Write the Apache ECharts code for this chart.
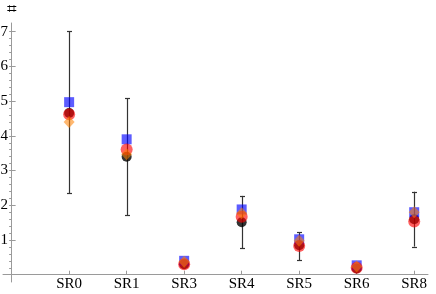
<!DOCTYPE html>
<html><head><meta charset="utf-8">
<script src="https://cdn.jsdelivr.net/npm/echarts@6/dist/echarts.min.js"></script>
<style>html,body{margin:0;padding:0;background:#fff}#c{width:436px;height:294px}</style>
</head><body><div id="c"></div>
<script>
const categories = ['SR0','SR1','SR3','SR4','SR5','SR6','SR8'];
const blueSquare = [4.97, 3.90, 0.40, 1.88, 1.02, 0.27, 1.80];
const blackCircle = [4.66, 3.40, 0.30, 1.51, 0.85, 0.18, 1.60];
const redCircle = [4.62, 3.61, 0.30, 1.67, 0.83, 0.20, 1.53];
const orangeDiamond = [4.40, 3.47, 0.37, 1.77, 0.98, 0.24, 1.80];
const errLow = [2.35, 1.71, null, 0.76, 0.42, null, 0.81];
const errHigh = [7.02, 5.08, null, 2.27, 1.22, null, 2.39];
const yTickLabels = [1, 2, 3, 4, 5, 6, 7];
const yAxisName = '\u2317';
const yMinorTicks = [];
for (let v = 0; v <= 7.01; v += 0.2) yMinorTicks.push(Math.round(v * 10) / 10);
const xPos = categories.map((c, i) => i + 1);

const pts = arr => arr.map((v, i) => [xPos[i], v]);
const errData = categories.map((c, i) => [xPos[i], errLow[i], errHigh[i]]).filter(d => d[1] != null);

const font = 'Liberation Serif, serif';
const axisGrey = '#9a9a9a';

const chart = echarts.init(document.getElementById('c'), null, {renderer: 'canvas'});
chart.setOption({
  animation: false,
  textStyle: {fontFamily: font},
  grid: {left: 3, right: 8, top: 23, bottom: 12, containLabel: false, outerBoundsMode: 'none'},
  graphic: [{
    type: 'text', left: 7, top: 1,
    style: {text: yAxisName, fill: '#000', font: '17px "DejaVu Sans", sans-serif'}
  }],
  xAxis: {
    type: 'value', min: -0.15, max: 7.24,
    splitLine: {show: false},
    axisLine: {onZero: true, lineStyle: {color: axisGrey, width: 1}},
    axisTick: {show: true, inside: true, length: 4, customValues: xPos, lineStyle: {color: axisGrey}},
    axisLabel: {customValues: xPos, margin: -5, color: '#000', fontFamily: font, fontSize: 15,
      formatter: v => categories[Math.round(v) - 1] || ''}
  },
  yAxis: [{
    type: 'value', min: -0.21, max: 7.25,
    splitLine: {show: false},
    axisLine: {onZero: true, onZeroAxisIndex: 0, lineStyle: {color: axisGrey, width: 1}},
    axisTick: {show: true, inside: true, length: 4, customValues: yTickLabels, lineStyle: {color: axisGrey}},
    axisLabel: {customValues: yTickLabels, margin: -5, color: '#000', fontFamily: font, fontSize: 15}
  }, {
    type: 'value', min: -0.21, max: 7.25,
    splitLine: {show: false},
    axisLine: {show: false, onZero: true, onZeroAxisIndex: 0},
    axisTick: {show: true, inside: true, length: 2.5, customValues: yMinorTicks, lineStyle: {color: axisGrey}},
    axisLabel: {show: false}
  }],
  series: [
    {
      type: 'custom', z: 1,
      data: errData,
      renderItem: (params, api) => {
        const x = api.value(0);
        const lo = api.coord([x, api.value(1)]);
        const hi = api.coord([x, api.value(2)]);
        const cx = Math.round(lo[0]) + 0.5;
        const cap = 2.5;
        const st = {stroke: '#333', lineWidth: 1.2};
        return {type: 'group', children: [
          {type: 'line', shape: {x1: cx, y1: lo[1], x2: cx, y2: hi[1]}, style: st},
          {type: 'line', shape: {x1: cx - cap, y1: Math.round(lo[1]) + 0.5, x2: cx + cap, y2: Math.round(lo[1]) + 0.5}, style: st},
          {type: 'line', shape: {x1: cx - cap, y1: Math.round(hi[1]) + 0.5, x2: cx + cap, y2: Math.round(hi[1]) + 0.5}, style: st}
        ]};
      }
    },
    {type: 'scatter', z: 2, data: pts(blackCircle), symbol: 'circle', symbolSize: 10,
      itemStyle: {color: '#000'}},
    {type: 'scatter', z: 3, data: pts(blueSquare), symbol: 'rect', symbolSize: 10,
      itemStyle: {color: 'rgba(0,0,255,0.8)'}},
    {type: 'scatter', z: 4, data: pts(redCircle), symbol: 'circle', symbolSize: 12,
      itemStyle: {color: 'rgba(255,0,0,0.78)'}},
    {type: 'scatter', z: 5, data: pts(orangeDiamond), symbol: 'diamond', symbolSize: [11, 12],
      itemStyle: {color: 'rgba(255,128,0,0.7)'}}
  ]
});
</script></body></html>
